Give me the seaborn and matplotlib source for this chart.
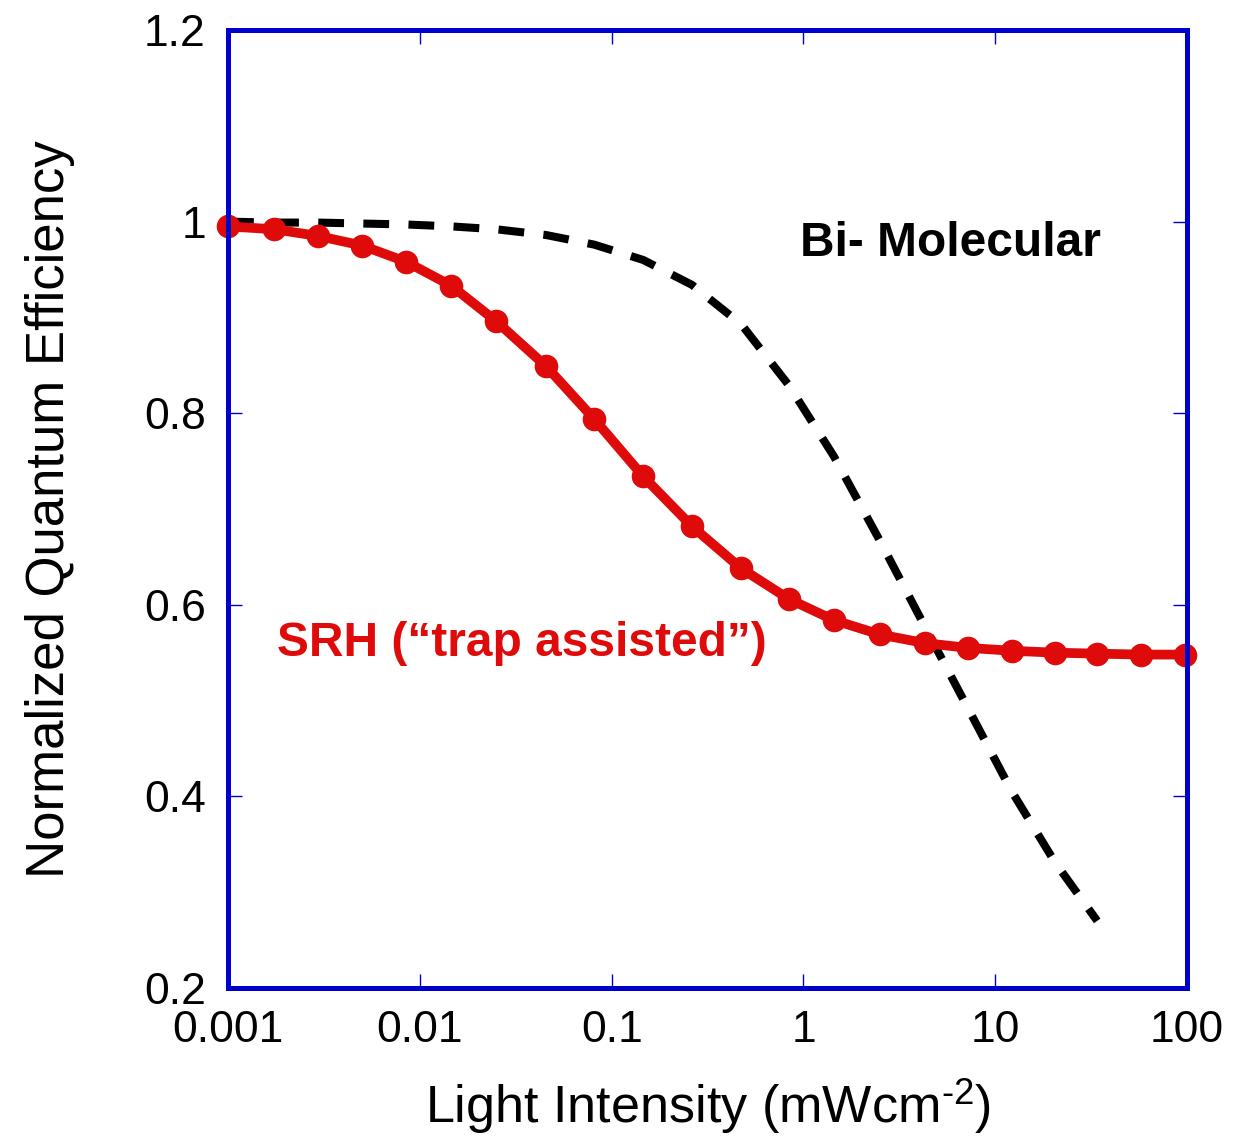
import numpy as np
import pandas as pd
import matplotlib
matplotlib.use("Agg")
import matplotlib.pyplot as plt
import seaborn as sns

# Data
intensity = [0.001, 0.00174, 0.00295, 0.0050, 0.0085, 0.0146, 0.025, 0.0455,
             0.081, 0.146, 0.262, 0.473, 0.84, 1.44, 2.5, 4.3, 7.2, 12.2,
             20.5, 34, 57.6, 97]
srh_eff = [0.995, 0.992, 0.985, 0.975, 0.958, 0.933, 0.896, 0.849, 0.794,
           0.734, 0.682, 0.638, 0.606, 0.584, 0.569, 0.560, 0.555, 0.552,
           0.550, 0.549, 0.548, 0.548]
bimol_intensity = [0.001, 0.00174, 0.00295, 0.0050, 0.0085, 0.0146, 0.025,
                   0.0455, 0.081, 0.146, 0.262, 0.473, 0.84, 1.44, 2.5, 4.3,
                   7.2, 12.2, 20.5, 34]
bimol_eff = [1.0, 0.999, 0.999, 0.998, 0.997, 0.995, 0.992, 0.986, 0.976,
             0.960, 0.934, 0.893, 0.829, 0.755, 0.667, 0.577, 0.492, 0.405,
             0.331, 0.270]
x_ticks = [0.001, 0.01, 0.1, 1, 10, 100]
x_ticklabels = ["0.001", "0.01", "0.1", "1", "10", "100"]
y_ticks = [0.2, 0.4, 0.6, 0.8, 1.0, 1.2]
y_ticklabels = ["0.2", "0.4", "0.6", "0.8", "1", "1.2"]

sns.set_theme(style="white")
plt.rcParams['font.family'] = ['Liberation Sans', 'DejaVu Sans']
plt.rcParams['mathtext.fontset'] = 'custom'
plt.rcParams['mathtext.rm'] = 'Liberation Sans'
plt.rcParams['mathtext.default'] = 'regular'
plt.rcParams['text.color'] = 'black'
plt.rcParams['axes.labelcolor'] = 'black'

srh_df = pd.DataFrame({"x": intensity, "y": srh_eff})
bi_df = pd.DataFrame({"x": bimol_intensity, "y": bimol_eff})

fig = plt.figure(figsize=(12.34, 11.42), dpi=100)
ax = fig.add_axes([0.1848, 0.1349, 0.962 - 0.1848, 0.9737 - 0.1349])

red = "#DF0A0A"
blue = "#0000CC"

sns.lineplot(data=bi_df, x="x", y="y", ax=ax, color="black", linewidth=5.8,
             dashes=False, sort=False, estimator=None)
ax.lines[-1].set_dashes([3.2, 2.4])
ax.lines[-1].set_dash_capstyle('butt')
sns.lineplot(data=srh_df, x="x", y="y", ax=ax, color=red, linewidth=7,
             marker="o", markersize=17, markeredgewidth=0, sort=False,
             estimator=None)
for l in ax.lines:
    l.set_clip_on(False)

ax.set_xscale("log")
ax.set_xlim(0.001, 100)
ax.set_ylim(0.2, 1.2)
ax.set_xticks(x_ticks)
ax.set_xticklabels(x_ticklabels)
ax.set_yticks(y_ticks)
ax.set_yticklabels(y_ticklabels)
ax.minorticks_off()
ax.tick_params(axis="both", which="major", direction="in", length=10,
               width=1, color=blue, labelsize=32, top=True, right=True,
               bottom=True, left=True, labelcolor="black")
ax.tick_params(axis="x", pad=16)
ax.tick_params(axis="y", pad=16)
for s in ax.spines.values():
    s.set_color(blue)
    s.set_linewidth(3.6)
    s.set_visible(True)

ax.set_xlabel("Light Intensity (mWcm$^{\\text{-2}}$)", fontsize=37.5,
              labelpad=18, color="black")
ax.set_ylabel("Normalized Quantum Efficiency", fontsize=38, labelpad=50,
              color="black")

ax.text(0.96, 0.977, "Bi- Molecular", fontsize=34.5, fontweight="bold",
        color="black", ha="left", va="center")
ax.text(0.0018, 0.560, "SRH (\u201ctrap assisted\u201d)", fontsize=34.5,
        fontweight="bold", color=red, ha="left", va="center")

fig.savefig("out.png", dpi=100, facecolor="white")
